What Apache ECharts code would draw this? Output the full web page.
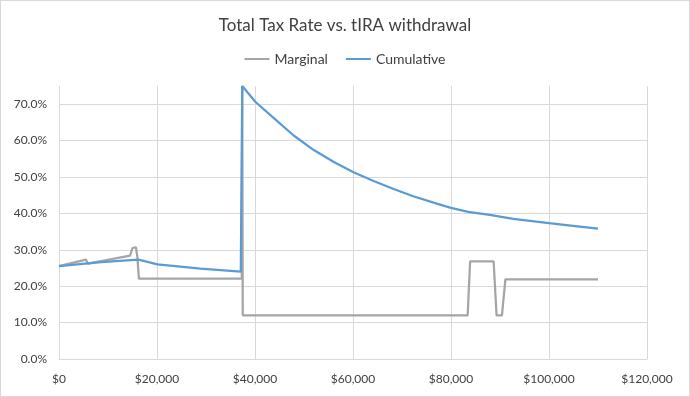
<!DOCTYPE html>
<html>
<head>
<meta charset="utf-8">
<script src="https://cdn.jsdelivr.net/npm/echarts@6/dist/echarts.min.js"></script>
<style>
  html, body { margin: 0; padding: 0; background: #fff; }
  #main { width: 688px; height: 395px; border: 1px solid #d9d9d9; }
</style>
</head>
<body>
<div id="main"></div>
<script>
// withdrawal ($) and rate pairs
var marginalX = [0, 5500, 5900, 14500, 15000, 15300, 15700, 16000, 16300, 37300, 37400, 37500, 83400, 83900, 88700, 89300, 90400, 91100, 110000];
var marginalY = [0.255, 0.273, 0.262, 0.284, 0.305, 0.309, 0.307, 0.28, 0.221, 0.221, 0.75, 0.12, 0.12, 0.268, 0.268, 0.12, 0.12, 0.219, 0.219];

var cumulativeX = [0, 8600, 16200, 20100, 28900, 35000, 37100, 37300, 37400, 40100, 43900, 47900, 52000, 56000, 60100, 64200, 68300, 72300, 77100, 80000, 83500, 87900, 92700, 100000, 104900, 110000];
var cumulativeY = [0.255, 0.266, 0.273, 0.26, 0.248, 0.242, 0.24, 0.242, 0.75, 0.706, 0.661, 0.614, 0.574, 0.542, 0.513, 0.489, 0.467, 0.447, 0.427, 0.415, 0.404, 0.396, 0.385, 0.373, 0.366, 0.358];

var xTicks = [0, 20000, 40000, 60000, 80000, 100000, 120000];

function zip(xs, ys) {
    return xs.map(function (x, i) { return [x, ys[i]]; });
}

var chart = echarts.init(document.getElementById('main'));

chart.setOption({
    animation: false,
    textStyle: { fontFamily: 'Lato' },
    title: {
        text: 'Total Tax Rate vs. tIRA withdrawal',
        left: 'center',
        top: 11,
        textStyle: { fontFamily: 'Lato', fontSize: 17, fontWeight: 'normal', color: '#404040' }
    },
    legend: {
        top: 46,
        left: 'center',
        itemWidth: 25,
        itemHeight: 2,
        itemGap: 18,
        icon: 'rect',
        textStyle: { fontSize: 14, color: '#404040', fontFamily: 'Lato' },
        data: ['Marginal', 'Cumulative']
    },
    grid: { left: 58, right: 42, top: 85, bottom: 37, containLabel: false },
    xAxis: {
        type: 'value',
        min: xTicks[0],
        max: xTicks[xTicks.length - 1],
        interval: 20000,
        axisLine: { show: true, lineStyle: { color: '#d9d9d9' } },
        axisTick: { show: false },
        splitLine: { show: true, lineStyle: { color: '#d9d9d9' } },
        axisLabel: {
            color: '#404040',
            fontSize: 12,
            margin: 14,
            formatter: function (v) { return '$' + v.toLocaleString('en-US'); }
        }
    },
    yAxis: {
        type: 'value',
        min: 0,
        max: 0.75,
        interval: 0.1,
        axisLine: { show: false },
        axisTick: { show: false },
        splitLine: { show: true, showMaxLine: false, lineStyle: { color: '#d9d9d9' } },
        axisLabel: {
            color: '#404040',
            fontSize: 12,
            margin: 12,
            showMaxLabel: false,
            formatter: function (v) { return (v * 100).toFixed(1) + '%'; }
        }
    },
    series: [
        {
            name: 'Marginal',
            type: 'line',
            showSymbol: false,
            data: zip(marginalX, marginalY),
            itemStyle: { color: '#a5a5a5' },
            lineStyle: { color: '#a5a5a5', width: 2.25 }
        },
        {
            name: 'Cumulative',
            type: 'line',
            showSymbol: false,
            data: zip(cumulativeX, cumulativeY),
            itemStyle: { color: '#5b9bd5' },
            lineStyle: { color: '#5b9bd5', width: 2.25 }
        }
    ]
});
</script>
</body>
</html>
